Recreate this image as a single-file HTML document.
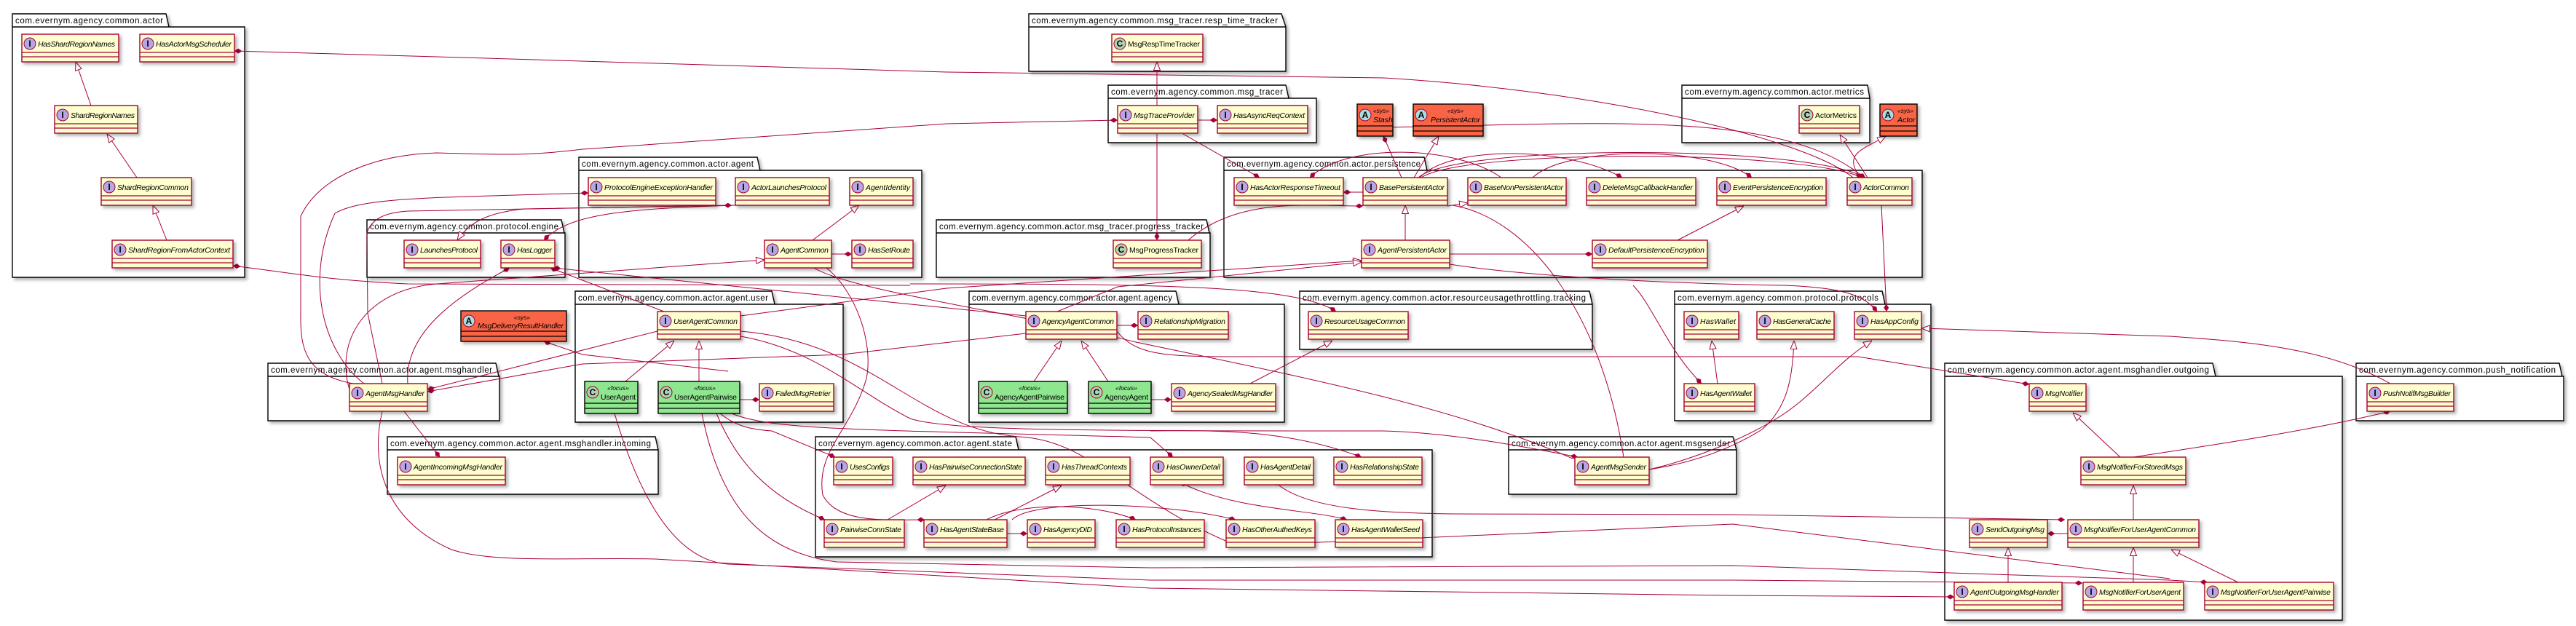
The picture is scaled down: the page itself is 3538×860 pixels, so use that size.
<!DOCTYPE html>
<html><head><meta charset="utf-8">
<style>
html,body{margin:0;padding:0;background:#fff}
svg{display:block}
.pk path{fill:#fff;stroke:#000;stroke-width:1.4}
.pk{filter:drop-shadow(3px 3px 2px rgba(0,0,0,.3))}
.pt{font:11.5px "Liberation Sans",sans-serif;fill:#000}
.c rect{fill:#FEFECE;stroke:#A80036;stroke-width:1.4}
.c path{stroke:#A80036;stroke-width:1.2;fill:none}
.c{filter:drop-shadow(3px 3px 2px rgba(0,0,0,.3))}
.g rect{fill:#8EE68E;stroke:#000}
.g path{stroke:#000}
.o rect{fill:#F96446;stroke:#000}
.o path{stroke:#000}
.ci{fill:#B4A7E5;stroke:#A80036;stroke-width:1}
.cc{fill:#ADD1B2;stroke:#A80036;stroke-width:1}
.ca{fill:#A9DCDF;stroke:#A80036;stroke-width:1}
.sp{font:bold 12px "Liberation Sans",sans-serif;text-anchor:middle;fill:#000}
.n{font:italic 10.5px "Liberation Sans",sans-serif;fill:#000}
.nc{font:10.5px "Liberation Sans",sans-serif;fill:#000}
.st{font:italic 8.5px "Liberation Sans",sans-serif;fill:#000;text-anchor:middle}
.e path{fill:none;stroke:#A80036;stroke-width:1}
</style></head><body>
<svg width="3538" height="860" xmlns="http://www.w3.org/2000/svg">
<defs>
<marker id="t" viewBox="0 0 12 10" refX="12" refY="5" markerWidth="12" markerHeight="10" markerUnits="userSpaceOnUse" orient="auto"><path d="M0.5 0.5L12 5L0.5 9.5z" fill="#fff" stroke="#A80036"/></marker>
<marker id="d" viewBox="0 0 12 8" refX="12" refY="4" markerWidth="11" markerHeight="7" markerUnits="userSpaceOnUse" orient="auto"><path d="M0 4L6 0L12 4L6 8z" fill="#A80036"/></marker>
</defs>

<!-- packages -->
<g class="pk"><path d="M17 19H228L232 37H336V381H17Z M17 37H232"/><text class="pt" x="21" y="32" textLength="203">com.evernym.agency.common.actor</text></g>
<g class="pk"><path d="M1413 19H1760L1766 37V98H1413Z M1413 37H1766"/><text class="pt" x="1417" y="32" textLength="338">com.evernym.agency.common.msg_tracer.resp_time_tracker</text></g>
<g class="pk"><path d="M1522 117H1766L1770 135H1808V196H1522Z M1522 135H1770"/><text class="pt" x="1526" y="130" textLength="236">com.evernym.agency.common.msg_tracer</text></g>
<g class="pk"><path d="M795 216H1040L1044 234H1266V381H795Z M795 234H1044"/><text class="pt" x="799" y="229" textLength="236">com.evernym.agency.common.actor.agent</text></g>
<g class="pk"><path d="M504 302H771L775 320H776V381H504Z M504 320H775"/><text class="pt" x="508" y="315" textLength="259">com.evernym.agency.common.protocol.engine</text></g>
<g class="pk"><path d="M1286 302H1657L1661 320H1662V381H1286Z M1286 320H1661"/><text class="pt" x="1290" y="315" textLength="363">com.evernym.agency.common.actor.msg_tracer.progress_tracker</text></g>
<g class="pk"><path d="M1681 216H1956L1960 234H2640V381H1681Z M1681 234H1960"/><text class="pt" x="1685" y="229" textLength="266">com.evernym.agency.common.actor.persistence</text></g>
<g class="pk"><path d="M2310 117H2565L2568 135V196H2310Z M2310 135H2568"/><text class="pt" x="2314" y="130" textLength="246">com.evernym.agency.common.actor.metrics</text></g>
<g class="pk"><path d="M368 499H681L685 517H686V578H368Z M368 517H685"/><text class="pt" x="372" y="512" textLength="304">com.evernym.agency.common.actor.agent.msghandler</text></g>
<g class="pk"><path d="M532 600H900L904 618V679H532Z M532 618H904"/><text class="pt" x="536" y="613" textLength="358">com.evernym.agency.common.actor.agent.msghandler.incoming</text></g>
<g class="pk"><path d="M790 400H1060L1064 418H1158V580H790Z M790 418H1064"/><text class="pt" x="794" y="413" textLength="261">com.evernym.agency.common.actor.agent.user</text></g>
<g class="pk"><path d="M1331 400H1615L1619 418H1764V580H1331Z M1331 418H1619"/><text class="pt" x="1335" y="413" textLength="275">com.evernym.agency.common.actor.agent.agency</text></g>
<g class="pk"><path d="M1785 400H2183L2187 418V480H1785Z M1785 418H2187"/><text class="pt" x="1789" y="413" textLength="389">com.evernym.agency.common.actor.resourceusagethrottling.tracking</text></g>
<g class="pk"><path d="M1120 600H1395L1399 618H1967V765H1120Z M1120 618H1399"/><text class="pt" x="1124" y="613" textLength="266">com.evernym.agency.common.actor.agent.state</text></g>
<g class="pk"><path d="M2072 600H2380L2385 618V679H2072Z M2072 618H2385"/><text class="pt" x="2076" y="613" textLength="300">com.evernym.agency.common.actor.agent.msgsender</text></g>
<g class="pk"><path d="M2300 400H2585L2589 418H2652V578H2300Z M2300 418H2589"/><text class="pt" x="2304" y="413" textLength="276">com.evernym.agency.common.protocol.protocols</text></g>
<g class="pk"><path d="M2671 499H3039L3043 517H3217V852H2671Z M2671 517H3043"/><text class="pt" x="2675" y="512" textLength="359">com.evernym.agency.common.actor.agent.msghandler.outgoing</text></g>
<g class="pk"><path d="M3236 499H3515L3519 517H3521V578H3236Z M3236 517H3519"/><text class="pt" x="3240" y="512" textLength="270">com.evernym.agency.common.push_notification</text></g>

<!-- edges -->
<g class="e">
<path marker-end="url(#t)" d="M125 145L104 85"/>
<path marker-end="url(#t)" d="M188 244L147 184"/>
<path marker-end="url(#t)" d="M229 330L210 282"/>
<path marker-end="url(#t)" d="M1589 145L1589 85"/>
<path marker-end="url(#t)" d="M1116 330L1180 282"/>
<path marker-end="url(#t)" d="M480 535C460 470 500 398 600 390L1050 357"/>
<path marker-end="url(#t)" d="M1942 244L1976 187"/>
<path marker-end="url(#t)" d="M1930 330L1930 282"/>
<path marker-end="url(#t)" d="M1988 283L2016 279"/>
<path marker-end="url(#t)" d="M2565 244L2527 185"/>
<path marker-end="url(#t)" d="M2555 244C2530 210 2560 205 2590 187"/>
<path marker-end="url(#t)" d="M2304 330L2395 283"/>
<path marker-end="url(#t)" d="M1017 434L1300 396L1870 358"/>
<path marker-end="url(#t)" d="M1452 428L1535 394L1870 360"/>
<path marker-end="url(#t)" d="M1005 282L720 287C670 292 645 305 628 330"/>
<path marker-end="url(#t)" d="M859 524L926 468"/>
<path marker-end="url(#t)" d="M960 524L960 468"/>
<path marker-end="url(#t)" d="M1420 524L1458 468"/>
<path marker-end="url(#t)" d="M1522 524L1485 468"/>
<path marker-end="url(#t)" d="M1717 527L1830 468"/>
<path marker-end="url(#t)" d="M1219 714L1299 667"/>
<path marker-end="url(#t)" d="M1366 714L1458 667"/>
<path marker-end="url(#t)" d="M2359 527L2351 468"/>
<path marker-end="url(#t)" d="M2265 645C2330 635 2380 615 2420 590C2455 560 2462 520 2464 468"/>
<path marker-end="url(#t)" d="M2265 645C2330 630 2400 600 2440 575C2490 545 2520 500 2571 468"/>
<path marker-end="url(#t)" d="M3283 527C3200 480 3100 470 2980 462L2639 451"/>
<path marker-end="url(#t)" d="M2912 628L2847 567"/>
<path marker-end="url(#t)" d="M2930 714L2930 667"/>
<path marker-end="url(#t)" d="M2758 800L2758 752"/>
<path marker-end="url(#t)" d="M2930 800L2930 752"/>
<path marker-end="url(#t)" d="M3074 800L2982 755"/>

<path marker-end="url(#d)" d="M2545 244C2480 190 2200 125 1900 107L1300 99L600 78L322 70"/>
<path marker-end="url(#d)" d="M2560 244C2450 150 2200 170 1900 175"/>
<path marker-end="url(#d)" d="M1250 392L560 390C450 385 400 375 320 365"/>
<path marker-end="url(#d)" d="M485 527C420 515 412 480 413 430L413 297C440 240 520 212 600 210C680 212 720 215 800 205L1300 170L1535 165"/>
<path marker-end="url(#d)" d="M500 527C440 480 420 380 460 293C500 270 600 272 808 265"/>
<path marker-end="url(#d)" d="M525 527L505 430L504 320C510 300 530 292 560 290L1005 282"/>
<path marker-end="url(#d)" d="M1010 282C850 287 780 295 747 330"/>
<path marker-end="url(#d)" d="M560 527C555 460 620 410 700 368"/>
<path marker-end="url(#d)" d="M912 428L756 368"/>
<path marker-end="url(#d)" d="M1409 434L760 368"/>
<path marker-end="url(#d)" d="M1142 349L1170 349"/>
<path marker-end="url(#d)" d="M1645 165L1672 165"/>
<path marker-end="url(#d)" d="M1589 184L1589 330"/>
<path marker-end="url(#d)" d="M1625 184L1730 244"/>
<path marker-end="url(#d)" d="M1632 330C1700 270 1800 283 1872 283"/>
<path marker-end="url(#d)" d="M1872 264L1845 264"/>
<path marker-end="url(#d)" d="M1925 244L1900 187"/>
<path marker-end="url(#d)" d="M2062 244C2000 200 1850 195 1799 244"/>
<path marker-end="url(#d)" d="M1950 244C1990 200 2150 200 2228 244"/>
<path marker-end="url(#d)" d="M2105 244C2150 200 2350 200 2406 244"/>
<path marker-end="url(#d)" d="M1948 244C2000 198 2480 198 2562 244"/>
<path marker-end="url(#d)" d="M1952 244C2010 205 2470 205 2558 244"/>
<path marker-end="url(#d)" d="M1991 349L2187 349"/>
<path marker-end="url(#d)" d="M2584 282L2591 428"/>
<path marker-end="url(#d)" d="M1991 363C2100 380 2300 390 2450 392C2530 395 2560 405 2578 428"/>
<path marker-end="url(#d)" d="M1000 510L800 487L747 469"/>
<path marker-end="url(#d)" d="M903 455L587 535"/>
<path marker-end="url(#d)" d="M1409 458L1157 487L800 500L587 538"/>
<path marker-end="url(#d)" d="M555 565L604 628"/>
<path marker-end="url(#d)" d="M1016 549L1043 549"/>
<path marker-end="url(#d)" d="M1534 447L1563 447"/>
<path marker-end="url(#d)" d="M1581 549L1609 549"/>
<path marker-end="url(#d)" d="M1250 390C1600 390 1780 392 1835 428"/>
<path marker-end="url(#d)" d="M989 568C1010 585 1030 590 1060 592L1147 628"/>
<path marker-end="url(#d)" d="M984 568C1010 630 1050 680 1133 714"/>
<path marker-end="url(#d)" d="M1135 368C1175 400 1200 470 1190 520C1170 590 1120 620 1130 680C1150 720 1220 714 1270 714"/>
<path marker-end="url(#d)" d="M1383 733L1411 733"/>
<path marker-end="url(#d)" d="M1355 714C1400 690 1500 690 1560 714"/>
<path marker-end="url(#d)" d="M1005 568C1060 592 1200 590 1580 601L1611 628"/>
<path marker-end="url(#d)" d="M1580 592C1700 590 1780 595 1870 628"/>
<path marker-end="url(#d)" d="M1390 714C1420 685 1600 690 1697 714"/>
<path marker-start="url(#d)" marker-end="url(#d)" d="M1630 667C1700 700 1800 700 1850 714"/>
<path marker-start="url(#d)" marker-end="url(#d)" d="M1757 667C1800 700 1900 705 2000 706L2380 707L2836 714"/>
<path marker-end="url(#d)" d="M1017 462C1120 480 1180 540 1250 575C1300 592 1500 592 1900 592C2000 595 2100 615 2167 628"/>
<path marker-end="url(#d)" d="M2243 392C2270 420 2290 480 2337 527"/>
<path marker-end="url(#d)" d="M1534 455C1560 488 1600 490 1700 490L2552 490L2787 528"/>
<path marker-end="url(#d)" d="M2840 733L2812 733"/>
<path marker-end="url(#d)" d="M2930 628C3050 610 3180 590 3283 565"/>
<path marker-end="url(#d)" d="M525 565C505 650 540 720 620 755C680 775 800 765 900 768L1580 808L2380 818L2684 820"/>
<path marker-end="url(#d)" d="M844 568C880 690 930 770 1000 775L1580 797L2380 797L2860 801"/>
<path marker-end="url(#d)" d="M964 568C990 700 1050 760 1150 772L1580 780L2380 777L2980 797L3032 800"/>
<path d="M1017 455C1200 470 1260 590 1400 600C1500 605 1550 690 1700 750L2380 720L2980 795"/>
<path d="M1118 368C1170 400 1400 430 1560 470C1800 520 2000 560 2160 630"/>
<path d="M1995 282C2100 300 2200 430 2230 628"/>
</g>

<!-- classes -->
<g class="c"><g transform="translate(30,47)"><rect width="133" height="38"/><path d="M0 25H133M0 31H133"/><circle class="ci" cx="11" cy="13" r="8"/><text class="sp" x="11" y="17">I</text><text class="n" x="22" y="17" textLength="106">HasShardRegionNames</text></g></g>
<g class="c"><g transform="translate(192,47)"><rect width="130" height="38"/><path d="M0 25H130M0 31H130"/><circle class="ci" cx="11" cy="13" r="8"/><text class="sp" x="11" y="17">I</text><text class="n" x="22" y="17" textLength="104">HasActorMsgScheduler</text></g></g>
<g class="c"><g transform="translate(75,145)"><rect width="114" height="38"/><path d="M0 25H114M0 31H114"/><circle class="ci" cx="11" cy="13" r="8"/><text class="sp" x="11" y="17">I</text><text class="n" x="22" y="17" textLength="88">ShardRegionNames</text></g></g>
<g class="c"><g transform="translate(139,244)"><rect width="124" height="38"/><path d="M0 25H124M0 31H124"/><circle class="ci" cx="11" cy="13" r="8"/><text class="sp" x="11" y="17">I</text><text class="n" x="22" y="17" textLength="98">ShardRegionCommon</text></g></g>
<g class="c"><g transform="translate(154,330)"><rect width="166" height="38"/><path d="M0 25H166M0 31H166"/><circle class="ci" cx="11" cy="13" r="8"/><text class="sp" x="11" y="17">I</text><text class="n" x="22" y="17" textLength="140">ShardRegionFromActorContext</text></g></g>
<g class="c"><g transform="translate(555,330)"><rect width="105" height="38"/><path d="M0 25H105M0 31H105"/><circle class="ci" cx="11" cy="13" r="8"/><text class="sp" x="11" y="17">I</text><text class="n" x="22" y="17" textLength="79">LaunchesProtocol</text></g></g>
<g class="c"><g transform="translate(688,330)"><rect width="74" height="38"/><path d="M0 25H74M0 31H74"/><circle class="ci" cx="11" cy="13" r="8"/><text class="sp" x="11" y="17">I</text><text class="n" x="22" y="17" textLength="48">HasLogger</text></g></g>
<g class="c"><g transform="translate(808,244)"><rect width="175" height="38"/><path d="M0 25H175M0 31H175"/><circle class="ci" cx="11" cy="13" r="8"/><text class="sp" x="11" y="17">I</text><text class="n" x="22" y="17" textLength="149">ProtocolEngineExceptionHandler</text></g></g>
<g class="c"><g transform="translate(1010,244)"><rect width="129" height="38"/><path d="M0 25H129M0 31H129"/><circle class="ci" cx="11" cy="13" r="8"/><text class="sp" x="11" y="17">I</text><text class="n" x="22" y="17" textLength="103">ActorLaunchesProtocol</text></g></g>
<g class="c"><g transform="translate(1167,244)"><rect width="87" height="38"/><path d="M0 25H87M0 31H87"/><circle class="ci" cx="11" cy="13" r="8"/><text class="sp" x="11" y="17">I</text><text class="n" x="22" y="17" textLength="61">AgentIdentity</text></g></g>
<g class="c"><g transform="translate(1050,330)"><rect width="92" height="38"/><path d="M0 25H92M0 31H92"/><circle class="ci" cx="11" cy="13" r="8"/><text class="sp" x="11" y="17">I</text><text class="n" x="22" y="17" textLength="66">AgentCommon</text></g></g>
<g class="c"><g transform="translate(1170,330)"><rect width="84" height="38"/><path d="M0 25H84M0 31H84"/><circle class="ci" cx="11" cy="13" r="8"/><text class="sp" x="11" y="17">I</text><text class="n" x="22" y="17" textLength="58">HasSetRoute</text></g></g>
<g class="c"><g transform="translate(1527,47)"><rect width="125" height="38"/><path d="M0 25H125M0 31H125"/><circle class="cc" cx="11" cy="13" r="8"/><text class="sp" x="11" y="17">C</text><text class="nc" x="22" y="17" textLength="99">MsgRespTimeTracker</text></g></g>
<g class="c"><g transform="translate(1535,145)"><rect width="110" height="38"/><path d="M0 25H110M0 31H110"/><circle class="ci" cx="11" cy="13" r="8"/><text class="sp" x="11" y="17">I</text><text class="n" x="22" y="17" textLength="84">MsgTraceProvider</text></g></g>
<g class="c"><g transform="translate(1672,145)"><rect width="124" height="38"/><path d="M0 25H124M0 31H124"/><circle class="ci" cx="11" cy="13" r="8"/><text class="sp" x="11" y="17">I</text><text class="n" x="22" y="17" textLength="98">HasAsyncReqContext</text></g></g>
<g class="c"><g transform="translate(1529,330)"><rect width="121" height="38"/><path d="M0 25H121M0 31H121"/><circle class="cc" cx="11" cy="13" r="8"/><text class="sp" x="11" y="17">C</text><text class="nc" x="22" y="17" textLength="95">MsgProgressTracker</text></g></g>
<g class="c"><g transform="translate(1695,244)"><rect width="150" height="38"/><path d="M0 25H150M0 31H150"/><circle class="ci" cx="11" cy="13" r="8"/><text class="sp" x="11" y="17">I</text><text class="n" x="22" y="17" textLength="124">HasActorResponseTimeout</text></g></g>
<g class="c"><g transform="translate(1872,244)"><rect width="116" height="38"/><path d="M0 25H116M0 31H116"/><circle class="ci" cx="11" cy="13" r="8"/><text class="sp" x="11" y="17">I</text><text class="n" x="22" y="17" textLength="90">BasePersistentActor</text></g></g>
<g class="c"><g transform="translate(1870,330)"><rect width="121" height="38"/><path d="M0 25H121M0 31H121"/><circle class="ci" cx="11" cy="13" r="8"/><text class="sp" x="11" y="17">I</text><text class="n" x="22" y="17" textLength="95">AgentPersistentActor</text></g></g>
<g class="c"><g transform="translate(2016,244)"><rect width="135" height="38"/><path d="M0 25H135M0 31H135"/><circle class="ci" cx="11" cy="13" r="8"/><text class="sp" x="11" y="17">I</text><text class="n" x="22" y="17" textLength="109">BaseNonPersistentActor</text></g></g>
<g class="c"><g transform="translate(2179,244)"><rect width="150" height="38"/><path d="M0 25H150M0 31H150"/><circle class="ci" cx="11" cy="13" r="8"/><text class="sp" x="11" y="17">I</text><text class="n" x="22" y="17" textLength="124">DeleteMsgCallbackHandler</text></g></g>
<g class="c"><g transform="translate(2358,244)"><rect width="150" height="38"/><path d="M0 25H150M0 31H150"/><circle class="ci" cx="11" cy="13" r="8"/><text class="sp" x="11" y="17">I</text><text class="n" x="22" y="17" textLength="124">EventPersistenceEncryption</text></g></g>
<g class="c"><g transform="translate(2537,244)"><rect width="89" height="38"/><path d="M0 25H89M0 31H89"/><circle class="ci" cx="11" cy="13" r="8"/><text class="sp" x="11" y="17">I</text><text class="n" x="22" y="17" textLength="63">ActorCommon</text></g></g>
<g class="c"><g transform="translate(2187,330)"><rect width="158" height="38"/><path d="M0 25H158M0 31H158"/><circle class="ci" cx="11" cy="13" r="8"/><text class="sp" x="11" y="17">I</text><text class="n" x="22" y="17" textLength="132">DefaultPersistenceEncryption</text></g></g>
<g class="c"><g transform="translate(2471,145)"><rect width="83" height="38"/><path d="M0 25H83M0 31H83"/><circle class="cc" cx="11" cy="13" r="8"/><text class="sp" x="11" y="17">C</text><text class="nc" x="22" y="17" textLength="57">ActorMetrics</text></g></g>

<g class="c o"><g transform="translate(1864,143)"><rect width="49" height="44"/><path d="M0 30H49M0 37H49"/><circle class="ca" cx="11" cy="15" r="8"/><text class="sp" x="11" y="19">A</text><text class="st" x="33" y="12">«sys»</text><text class="n" x="22" y="25">Stash</text></g></g>
<g class="c o"><g transform="translate(1941,143)"><rect width="96" height="44"/><path d="M0 30H96M0 37H96"/><circle class="ca" cx="11" cy="15" r="8"/><text class="sp" x="11" y="19">A</text><text class="st" x="58" y="12">«sys»</text><text class="n" x="24" y="25" textLength="68">PersistentActor</text></g></g>
<g class="c o"><g transform="translate(2582,143)"><rect width="51" height="44"/><path d="M0 30H51M0 37H51"/><circle class="ca" cx="11" cy="15" r="8"/><text class="sp" x="11" y="19">A</text><text class="st" x="35" y="12">«sys»</text><text class="n" x="24" y="25">Actor</text></g></g>
<g class="c o"><g transform="translate(633,427)"><rect width="145" height="42"/><path d="M0 28H145M0 35H145"/><circle class="ca" cx="11" cy="14" r="8"/><text class="sp" x="11" y="18">A</text><text class="st" x="84" y="12">«sys»</text><text class="n" x="23" y="24" textLength="118">MsgDeliveryResultHandler</text></g></g>

<g class="c"><g transform="translate(480,527)"><rect width="107" height="38"/><path d="M0 25H107M0 31H107"/><circle class="ci" cx="11" cy="13" r="8"/><text class="sp" x="11" y="17">I</text><text class="n" x="22" y="17" textLength="81">AgentMsgHandler</text></g></g>
<g class="c"><g transform="translate(546,628)"><rect width="148" height="38"/><path d="M0 25H148M0 31H148"/><circle class="ci" cx="11" cy="13" r="8"/><text class="sp" x="11" y="17">I</text><text class="n" x="22" y="17" textLength="122">AgentIncomingMsgHandler</text></g></g>
<g class="c"><g transform="translate(903,428)"><rect width="114" height="38"/><path d="M0 25H114M0 31H114"/><circle class="ci" cx="11" cy="13" r="8"/><text class="sp" x="11" y="17">I</text><text class="n" x="22" y="17" textLength="88">UserAgentCommon</text></g></g>
<g class="c g"><g transform="translate(803,524)"><rect width="73" height="44"/><path d="M0 30H73M0 37H73"/><circle class="cc" cx="11" cy="15" r="8"/><text class="sp" x="11" y="19">C</text><text class="st" x="46" y="12">«focus»</text><text class="nc" x="22" y="25" textLength="48">UserAgent</text></g></g>
<g class="c g"><g transform="translate(904,524)"><rect width="112" height="44"/><path d="M0 30H112M0 37H112"/><circle class="cc" cx="11" cy="15" r="8"/><text class="sp" x="11" y="19">C</text><text class="st" x="64" y="12">«focus»</text><text class="nc" x="22" y="25" textLength="86">UserAgentPairwise</text></g></g>
<g class="c"><g transform="translate(1043,527)"><rect width="102" height="38"/><path d="M0 25H102M0 31H102"/><circle class="ci" cx="11" cy="13" r="8"/><text class="sp" x="11" y="17">I</text><text class="n" x="22" y="17" textLength="76">FailedMsgRetrier</text></g></g>
<g class="c"><g transform="translate(1409,428)"><rect width="125" height="38"/><path d="M0 25H125M0 31H125"/><circle class="ci" cx="11" cy="13" r="8"/><text class="sp" x="11" y="17">I</text><text class="n" x="22" y="17" textLength="99">AgencyAgentCommon</text></g></g>
<g class="c g"><g transform="translate(1344,524)"><rect width="122" height="44"/><path d="M0 30H122M0 37H122"/><circle class="cc" cx="11" cy="15" r="8"/><text class="sp" x="11" y="19">C</text><text class="st" x="70" y="12">«focus»</text><text class="nc" x="22" y="25" textLength="96">AgencyAgentPairwise</text></g></g>
<g class="c g"><g transform="translate(1495,524)"><rect width="86" height="44"/><path d="M0 30H86M0 37H86"/><circle class="cc" cx="11" cy="15" r="8"/><text class="sp" x="11" y="19">C</text><text class="st" x="52" y="12">«focus»</text><text class="nc" x="22" y="25" textLength="60">AgencyAgent</text></g></g>
<g class="c"><g transform="translate(1563,428)"><rect width="124" height="38"/><path d="M0 25H124M0 31H124"/><circle class="ci" cx="11" cy="13" r="8"/><text class="sp" x="11" y="17">I</text><text class="n" x="22" y="17" textLength="98">RelationshipMigration</text></g></g>
<g class="c"><g transform="translate(1609,527)"><rect width="143" height="38"/><path d="M0 25H143M0 31H143"/><circle class="ci" cx="11" cy="13" r="8"/><text class="sp" x="11" y="17">I</text><text class="n" x="22" y="17" textLength="117">AgencySealedMsgHandler</text></g></g>
<g class="c"><g transform="translate(1797,428)"><rect width="137" height="38"/><path d="M0 25H137M0 31H137"/><circle class="ci" cx="11" cy="13" r="8"/><text class="sp" x="11" y="17">I</text><text class="n" x="22" y="17" textLength="111">ResourceUsageCommon</text></g></g>
<g class="c"><g transform="translate(1145,628)"><rect width="81" height="38"/><path d="M0 25H81M0 31H81"/><circle class="ci" cx="11" cy="13" r="8"/><text class="sp" x="11" y="17">I</text><text class="n" x="22" y="17" textLength="55">UsesConfigs</text></g></g>
<g class="c"><g transform="translate(1254,628)"><rect width="154" height="38"/><path d="M0 25H154M0 31H154"/><circle class="ci" cx="11" cy="13" r="8"/><text class="sp" x="11" y="17">I</text><text class="n" x="22" y="17" textLength="128">HasPairwiseConnectionState</text></g></g>
<g class="c"><g transform="translate(1436,628)"><rect width="116" height="38"/><path d="M0 25H116M0 31H116"/><circle class="ci" cx="11" cy="13" r="8"/><text class="sp" x="11" y="17">I</text><text class="n" x="22" y="17" textLength="90">HasThreadContexts</text></g></g>
<g class="c"><g transform="translate(1580,628)"><rect width="100" height="38"/><path d="M0 25H100M0 31H100"/><circle class="ci" cx="11" cy="13" r="8"/><text class="sp" x="11" y="17">I</text><text class="n" x="22" y="17" textLength="74">HasOwnerDetail</text></g></g>
<g class="c"><g transform="translate(1709,628)"><rect width="95" height="38"/><path d="M0 25H95M0 31H95"/><circle class="ci" cx="11" cy="13" r="8"/><text class="sp" x="11" y="17">I</text><text class="n" x="22" y="17" textLength="69">HasAgentDetail</text></g></g>
<g class="c"><g transform="translate(1832,628)"><rect width="121" height="38"/><path d="M0 25H121M0 31H121"/><circle class="ci" cx="11" cy="13" r="8"/><text class="sp" x="11" y="17">I</text><text class="n" x="22" y="17" textLength="95">HasRelationshipState</text></g></g>
<g class="c"><g transform="translate(1132,714)"><rect width="110" height="38"/><path d="M0 25H110M0 31H110"/><circle class="ci" cx="11" cy="13" r="8"/><text class="sp" x="11" y="17">I</text><text class="n" x="22" y="17" textLength="84">PairwiseConnState</text></g></g>
<g class="c"><g transform="translate(1269,714)"><rect width="114" height="38"/><path d="M0 25H114M0 31H114"/><circle class="ci" cx="11" cy="13" r="8"/><text class="sp" x="11" y="17">I</text><text class="n" x="22" y="17" textLength="88">HasAgentStateBase</text></g></g>
<g class="c"><g transform="translate(1411,714)"><rect width="93" height="38"/><path d="M0 25H93M0 31H93"/><circle class="ci" cx="11" cy="13" r="8"/><text class="sp" x="11" y="17">I</text><text class="n" x="22" y="17" textLength="67">HasAgencyDID</text></g></g>
<g class="c"><g transform="translate(1533,714)"><rect width="121" height="38"/><path d="M0 25H121M0 31H121"/><circle class="ci" cx="11" cy="13" r="8"/><text class="sp" x="11" y="17">I</text><text class="n" x="22" y="17" textLength="95">HasProtocolInstances</text></g></g>
<g class="c"><g transform="translate(1684,714)"><rect width="122" height="38"/><path d="M0 25H122M0 31H122"/><circle class="ci" cx="11" cy="13" r="8"/><text class="sp" x="11" y="17">I</text><text class="n" x="22" y="17" textLength="96">HasOtherAuthedKeys</text></g></g>
<g class="c"><g transform="translate(1834,714)"><rect width="120" height="38"/><path d="M0 25H120M0 31H120"/><circle class="ci" cx="11" cy="13" r="8"/><text class="sp" x="11" y="17">I</text><text class="n" x="22" y="17" textLength="94">HasAgentWalletSeed</text></g></g>
<g class="c"><g transform="translate(2163,628)"><rect width="102" height="38"/><path d="M0 25H102M0 31H102"/><circle class="ci" cx="11" cy="13" r="8"/><text class="sp" x="11" y="17">I</text><text class="n" x="22" y="17" textLength="76">AgentMsgSender</text></g></g>
<g class="c"><g transform="translate(2313,428)"><rect width="75" height="38"/><path d="M0 25H75M0 31H75"/><circle class="ci" cx="11" cy="13" r="8"/><text class="sp" x="11" y="17">I</text><text class="n" x="22" y="17" textLength="49">HasWallet</text></g></g>
<g class="c"><g transform="translate(2413,428)"><rect width="106" height="38"/><path d="M0 25H106M0 31H106"/><circle class="ci" cx="11" cy="13" r="8"/><text class="sp" x="11" y="17">I</text><text class="n" x="22" y="17" textLength="80">HasGeneralCache</text></g></g>
<g class="c"><g transform="translate(2547,428)"><rect width="92" height="38"/><path d="M0 25H92M0 31H92"/><circle class="ci" cx="11" cy="13" r="8"/><text class="sp" x="11" y="17">I</text><text class="n" x="22" y="17" textLength="66">HasAppConfig</text></g></g>
<g class="c"><g transform="translate(2313,527)"><rect width="97" height="38"/><path d="M0 25H97M0 31H97"/><circle class="ci" cx="11" cy="13" r="8"/><text class="sp" x="11" y="17">I</text><text class="n" x="22" y="17" textLength="71">HasAgentWallet</text></g></g>
<g class="c"><g transform="translate(2787,527)"><rect width="78" height="38"/><path d="M0 25H78M0 31H78"/><circle class="ci" cx="11" cy="13" r="8"/><text class="sp" x="11" y="17">I</text><text class="n" x="22" y="17" textLength="52">MsgNotifier</text></g></g>
<g class="c"><g transform="translate(2858,628)"><rect width="144" height="38"/><path d="M0 25H144M0 31H144"/><circle class="ci" cx="11" cy="13" r="8"/><text class="sp" x="11" y="17">I</text><text class="n" x="22" y="17" textLength="118">MsgNotifierForStoredMsgs</text></g></g>
<g class="c"><g transform="translate(2705,714)"><rect width="107" height="38"/><path d="M0 25H107M0 31H107"/><circle class="ci" cx="11" cy="13" r="8"/><text class="sp" x="11" y="17">I</text><text class="n" x="22" y="17" textLength="81">SendOutgoingMsg</text></g></g>
<g class="c"><g transform="translate(2840,714)"><rect width="180" height="38"/><path d="M0 25H180M0 31H180"/><circle class="ci" cx="11" cy="13" r="8"/><text class="sp" x="11" y="17">I</text><text class="n" x="22" y="17" textLength="154">MsgNotifierForUserAgentCommon</text></g></g>
<g class="c"><g transform="translate(2684,800)"><rect width="148" height="38"/><path d="M0 25H148M0 31H148"/><circle class="ci" cx="11" cy="13" r="8"/><text class="sp" x="11" y="17">I</text><text class="n" x="22" y="17" textLength="122">AgentOutgoingMsgHandler</text></g></g>
<g class="c"><g transform="translate(2861,800)"><rect width="138" height="38"/><path d="M0 25H138M0 31H138"/><circle class="ci" cx="11" cy="13" r="8"/><text class="sp" x="11" y="17">I</text><text class="n" x="22" y="17" textLength="112">MsgNotifierForUserAgent</text></g></g>
<g class="c"><g transform="translate(3028,800)"><rect width="177" height="38"/><path d="M0 25H177M0 31H177"/><circle class="ci" cx="11" cy="13" r="8"/><text class="sp" x="11" y="17">I</text><text class="n" x="22" y="17" textLength="151">MsgNotifierForUserAgentPairwise</text></g></g>
<g class="c"><g transform="translate(3251,527)"><rect width="119" height="38"/><path d="M0 25H119M0 31H119"/><circle class="ci" cx="11" cy="13" r="8"/><text class="sp" x="11" y="17">I</text><text class="n" x="22" y="17" textLength="93">PushNotifMsgBuilder</text></g></g>
</svg>
</body></html>
